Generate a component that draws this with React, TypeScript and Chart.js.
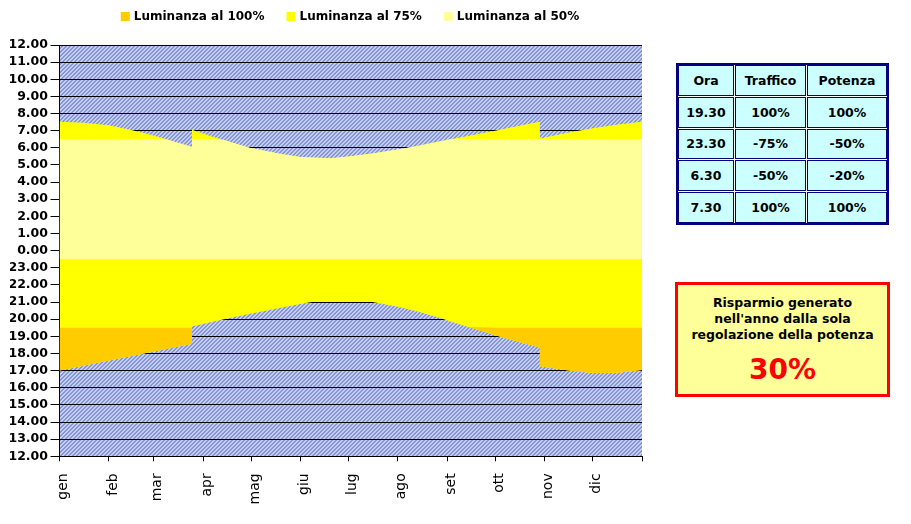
import React, { useEffect, useRef } from 'react';
import { Chart, registerables } from 'chart.js';

Chart.register(...registerables);

const FONT = '"DejaVu Sans", Verdana, sans-serif';

// ---------- data ----------
const monthLabels = ['gen', 'feb', 'mar', 'apr', 'mag', 'giu', 'lug', 'ago', 'set', 'ott', 'nov', 'dic'];
const monthStartDays = [0, 31, 59, 90, 120, 151, 181, 212, 243, 273, 304, 334, 365];
const hourLabels = [
  '12.00', '13.00', '14.00', '15.00', '16.00', '17.00', '18.00', '19.00', '20.00', '21.00', '22.00', '23.00',
  '0.00', '1.00', '2.00', '3.00', '4.00', '5.00', '6.00', '7.00', '8.00', '9.00', '10.00', '11.00', '12.00',
];

// day of year (duplicated days = daylight-saving jumps)
const days = [0, 15, 31, 45, 59, 68, 83, 83, 96, 103, 119, 138, 151, 158, 170, 181, 196, 212, 225, 238, 245, 256, 273, 285, 301, 301, 319, 334, 350, 365];
// lights on (sunset) time, hours
const sunsetHours = [17.0, 17.28, 17.59, 17.85, 18.12, 18.29, 18.57, 19.58, 19.85, 20.0, 20.3, 20.65, 20.88, 21.0, 21.0, 21.0, 21.0, 20.72, 20.44, 20.08, 19.87, 19.55, 19.06, 18.74, 18.35, 17.25, 17.0, 16.86, 16.88, 17.03];
// lights off (sunrise) time, hours
const sunriseHours = [7.52, 7.46, 7.31, 7.04, 6.72, 6.47, 6.05, 7.05, 6.65, 6.46, 6.01, 5.66, 5.46, 5.43, 5.39, 5.5, 5.67, 5.9, 6.12, 6.37, 6.5, 6.69, 7.0, 7.23, 7.52, 6.55, 6.89, 7.14, 7.36, 7.52];

// switching times from the table (19.30, 23.30, 6.30)
const fullUntil = 19.5;
const dim75Until = 23.5;
const dim50Until = 6.5;

const legendLabels = ['Luminanza al 100%', 'Luminanza al 75%', 'Luminanza al 50%'];

const tableHead = ['Ora', 'Traffico', 'Potenza'];
const tableRows = [
  ['19.30', '100%', '100%'],
  ['23.30', '-75%', '-50%'],
  ['6.30', '-50%', '-20%'],
  ['7.30', '100%', '100%'],
];
const savingLines = ['Risparmio generato', "nell'anno dalla sola", 'regolazione della potenza'];
const savingValue = '30%';

// ---------- styles ----------
const COLOR_100 = '#FFCC00';
const COLOR_75 = '#FFFF00';
const COLOR_50 = '#FFFF99';
const legendColors = [COLOR_100, COLOR_75, COLOR_50];

// hour of day -> axis value (axis starts at noon)
const toAxis = (h: number) => (h >= 12 ? h - 12 : h + 12);

function makeHatch(ctx: CanvasRenderingContext2D) {
  const c = document.createElement('canvas');
  c.width = 4;
  c.height = 4;
  const g = c.getContext('2d')!;
  g.fillStyle = '#c4cdf2';
  g.fillRect(0, 0, 4, 4);
  g.fillStyle = '#8796cf';
  for (let y = 0; y < 4; y++) {
    const x = (3 - y + 4) % 4;
    g.fillRect(x, y, 1, 1);
    g.fillRect((x + 1) % 4, y, 1, 1);
  }
  return ctx.createPattern(c, 'repeat')!;
}

const hatchPlugin = {
  id: 'hatchBackground',
  beforeDraw(chart: any) {
    const { ctx, chartArea: a } = chart;
    ctx.save();
    ctx.fillStyle = makeHatch(ctx);
    ctx.fillRect(a.left, a.top, a.right - a.left, a.bottom - a.top);
    ctx.restore();
  },
};

const legendPlugin = {
  id: 'topLegend',
  afterDraw(chart: any) {
    const ctx: CanvasRenderingContext2D = chart.ctx;
    ctx.save();
    ctx.font = `bold 12px ${FONT}`;
    ctx.textBaseline = 'middle';
    ctx.textAlign = 'left';
    const box = 9;
    const gapText = 4;
    const gapItem = 22;
    const widths = legendLabels.map((t) => box + gapText + ctx.measureText(t).width);
    const total = widths.reduce((s, w) => s + w, 0) + gapItem * (legendLabels.length - 1);
    let x = 350 - total / 2;
    const cy = 16.5;
    legendLabels.forEach((t, i) => {
      ctx.fillStyle = legendColors[i];
      ctx.fillRect(x, cy - box / 2, box, box);
      ctx.fillStyle = '#000';
      ctx.fillText(t, x + box + gapText, cy);
      x += widths[i] + gapItem;
    });
    ctx.restore();
  },
};

const hidden = {
  borderWidth: 0,
  borderColor: 'rgba(0,0,0,0)',
  pointRadius: 0,
  fill: false,
};

export default function App() {
  const ref = useRef<HTMLCanvasElement | null>(null);

  useEffect(() => {
    if (!ref.current) return;
    const pts = (vals: number[]) => days.map((d, i) => ({ x: d, y: vals[i] }));
    const sunsetV = sunsetHours.map(toAxis);
    const sunriseV = sunriseHours.map(toAxis);
    const fullTop = sunsetV.map((v) => Math.max(v, toAxis(fullUntil)));
    const dim50Top = sunriseV.map((v) => Math.min(v, toAxis(dim50Until)));
    const dim75Line = days.map(() => toAxis(dim75Until));

    const chart = new Chart(ref.current, {
      type: 'line',
      data: {
        datasets: [
          // 0: orange (100%) from sunset to 19.30 - drawn on top
          { ...hidden, label: legendLabels[0], data: pts(fullTop), fill: 3, backgroundColor: COLOR_100 },
          // 1: light yellow (50%) from 23.30 to 6.30
          { ...hidden, label: legendLabels[2], data: pts(dim50Top), fill: 2, backgroundColor: COLOR_50 },
          // 2: 23.30 line
          { ...hidden, label: '23.30', data: pts(dim75Line) },
          // 3: sunset line
          { ...hidden, label: 'sunset', data: pts(sunsetV) },
          // 4: yellow (75%) whole lit period - drawn first
          { ...hidden, label: legendLabels[1], data: pts(sunriseV), fill: 3, backgroundColor: COLOR_75 },
        ] as any,
      },
      options: {
        responsive: false,
        animation: false,
        devicePixelRatio: 1,
        layout: { padding: { left: 10, right: 18, top: 45, bottom: 0 } },
        plugins: { legend: { display: false }, tooltip: { enabled: false } },
        elements: { point: { radius: 0 }, line: { tension: 0 } },
        scales: {
          x: {
            type: 'linear',
            min: monthStartDays[0],
            max: monthStartDays[monthStartDays.length - 1],
            afterBuildTicks: (s: any) => {
              s.ticks = monthStartDays.map((v) => ({ value: v }));
            },
            afterFit: (s: any) => {
              s.height = 67.7;
              s.paddingLeft = 0;
              s.paddingRight = 0;
            },
            ticks: {
              autoSkip: false,
              maxRotation: 90,
              minRotation: 90,
              padding: 12,
              labelOffset: 4,
              color: '#000',
              font: { family: FONT, size: 14 },
              callback: (_v: any, i: number) => monthLabels[i] ?? '',
            },
            grid: { drawOnChartArea: false, drawTicks: true, tickLength: 5, color: '#000' },
            border: { color: '#000' },
          },
          y: {
            type: 'linear',
            min: 0,
            max: hourLabels.length - 1,
            afterBuildTicks: (s: any) => {
              s.ticks = hourLabels.map((_, i) => ({ value: i }));
            },
            afterFit: (s: any) => {
              s.width = 49.5;
            },
            ticks: {
              autoSkip: false,
              padding: 2.5,
              color: '#000',
              font: { family: FONT, size: 12.5, weight: 'bold' },
              callback: (v: any) => hourLabels[v] ?? '',
            },
            grid: { color: '#000', tickLength: 9 },
            border: { color: '#000' },
          },
        },
      } as any,
      plugins: [hatchPlugin, legendPlugin],
    });
    return () => chart.destroy();
  }, []);

  const cell: React.CSSProperties = {
    boxSizing: 'border-box',
    border: '1px solid #000080',
    background: '#CCFFFF',
    display: 'flex',
    alignItems: 'center',
    justifyContent: 'center',
    fontFamily: FONT,
    fontWeight: 'bold',
    fontSize: '12.5px',
    color: '#000',
  };

  return (
    <div style={{ position: 'absolute', left: 0, top: 0, width: 911, height: 524, background: '#fff', overflow: 'hidden' }}>
      <canvas ref={ref} width={660} height={524} style={{ position: 'absolute', left: 0, top: 0 }} />
      <div
        style={{
          position: 'absolute',
          left: 676,
          top: 63,
          width: 213,
          height: 162,
          boxSizing: 'border-box',
          border: '2px solid #000080',
          background: '#fff',
          display: 'grid',
          gridTemplateColumns: '56px 71px 1fr',
          gridTemplateRows: 'repeat(5, 1fr)',
          gap: '1px',
        }}
      >
        {[tableHead, ...tableRows].flat().map((t, i) => (
          <div key={i} style={cell}>
            {t}
          </div>
        ))}
      </div>
      <div
        style={{
          position: 'absolute',
          left: 675,
          top: 282,
          width: 215,
          height: 115,
          boxSizing: 'border-box',
          border: '3px solid #FF0000',
          background: '#FFFF99',
          fontFamily: FONT,
          fontWeight: 'bold',
          textAlign: 'center',
          paddingTop: 10,
        }}
      >
        {savingLines.map((l, i) => (
          <div key={i} style={{ fontSize: '12.5px', lineHeight: '16.2px', color: '#000' }}>
            {l}
          </div>
        ))}
        <div style={{ fontSize: '28px', lineHeight: '32px', color: '#FF0000', marginTop: 10 }}>{savingValue}</div>
      </div>
    </div>
  );
}
